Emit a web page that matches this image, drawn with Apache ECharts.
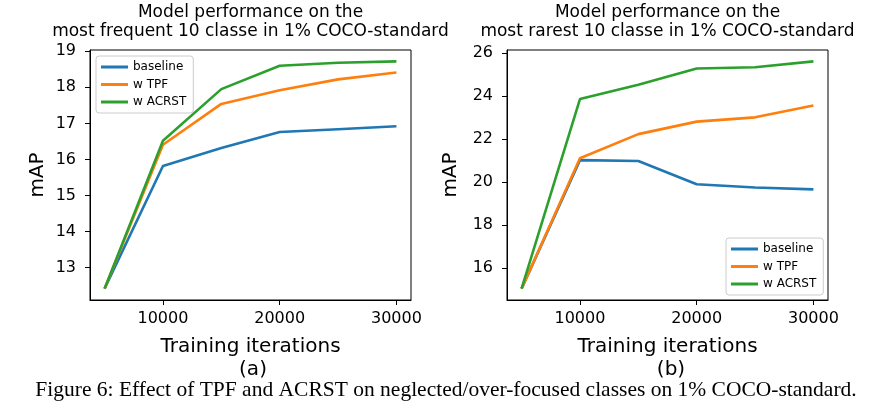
<!DOCTYPE html>
<html><head><meta charset="utf-8">
<script src="https://cdn.jsdelivr.net/npm/echarts@6/dist/echarts.min.js"></script>
<style>html,body{margin:0;padding:0;background:#fff}#c{width:885px;height:414px}</style>
</head><body><div id="c"></div>
<script>
const iterations = [5000, 10000, 15000, 20000, 25000, 30000];
const seriesNames = ['baseline', 'w TPF', 'w ACRST'];
// (a) most frequent 10 classes
const freqBaseline = [12.42, 15.82, 16.32, 16.76, 16.84, 16.92];
const freqTPF      = [12.42, 16.41, 17.54, 17.92, 18.22, 18.41];
const freqACRST    = [12.42, 16.52, 17.95, 18.60, 18.68, 18.72];
// (b) most rarest 10 classes
const rareBaseline = [15.04, 21.01, 20.97, 19.89, 19.74, 19.65];
const rareTPF      = [15.04, 21.10, 22.22, 22.80, 23.00, 23.55];
const rareACRST    = [15.04, 23.85, 24.51, 25.27, 25.33, 25.60];
const xTicks = [10000, 20000, 30000];
const yTicksA = [13, 14, 15, 16, 17, 18, 19];
const yTicksB = [16, 18, 20, 22, 24, 26];

const colors = ['#1f77b4', '#ff7f0e', '#2ca02c'];
const F = 'DejaVu Sans';
const pair = arr => iterations.map((x, i) => [x, arr[i]]);

function xAxis(gi) {
  return {
    type: 'value', gridIndex: gi, min: 3750, max: 31250,
    name: 'Training iterations', nameLocation: 'middle', nameGap: 37,
    nameTextStyle: {fontFamily: F, fontSize: 20, color: '#000'},
    axisLine: {show: true, lineStyle: {color: '#000', width: 1}},
    axisTick: {show: true, length: 5, inside: false, customValues: xTicks, lineStyle: {color: '#000'}},
    axisLabel: {customValues: xTicks, margin: 11, fontFamily: F, fontSize: 16, color: '#000', formatter: v => String(v)},
    splitLine: {show: false}
  };
}
function yAxis(gi, min, max, ticks, gap) {
  return {
    type: 'value', gridIndex: gi, min: min, max: max,
    name: 'mAP', nameLocation: 'middle', nameGap: gap,
    nameTextStyle: {fontFamily: F, fontSize: 20, color: '#000'},
    axisLine: {show: true, lineStyle: {color: '#000', width: 1}},
    axisTick: {show: true, length: 5, customValues: ticks, lineStyle: {color: '#000'}},
    axisLabel: {customValues: ticks, margin: 14, fontFamily: F, fontSize: 16, color: '#000', formatter: v => String(v)},
    splitLine: {show: false}
  };
}
function line(name, gi, arr, ci) {
  return {
    name: name, type: 'line', xAxisIndex: gi, yAxisIndex: gi, data: pair(arr),
    showSymbol: false, symbol: 'none', lineStyle: {color: colors[ci], width: 2.6},
    itemStyle: {color: colors[ci]}, animation: false
  };
}
function legend(left, top) {
  return {
    orient: 'vertical', left: left, top: top, data: seriesNames,
    icon: 'rect', itemWidth: 27, itemHeight: 3, itemGap: 5.5,
    padding: [5, 7, 5, 5], borderColor: '#cccccc', borderWidth: 1, borderRadius: 3,
    backgroundColor: '#fff',
    textStyle: {fontFamily: F, fontSize: 12, color: '#000'}, selectedMode: false
  };
}

const chart = echarts.init(document.getElementById('c'), null, {renderer: 'canvas'});
chart.setOption({
  animation: false,
  backgroundColor: '#fff',
  grid: [
    {left: 90, top: 50, width: 321, height: 250, show: true, borderColor: '#000', borderWidth: 1, containLabel: false},
    {left: 507, top: 50, width: 321, height: 250, show: true, borderColor: '#000', borderWidth: 1, containLabel: false}
  ],
  xAxis: [xAxis(0), xAxis(1)],
  yAxis: [yAxis(0, 12.105, 19.035, yTicksA, 42), yAxis(1, 14.51, 26.13, yTicksB, 46)],
  legend: [legend(96, 56), legend(726, 238)],
  series: [
    line('baseline', 0, freqBaseline, 0), line('w TPF', 0, freqTPF, 1), line('w ACRST', 0, freqACRST, 2),
    line('baseline', 1, rareBaseline, 0), line('w TPF', 1, rareTPF, 1), line('w ACRST', 1, rareACRST, 2)
  ],
  graphic: [
    {type: 'text', x: 250.5, y: 13, style: {text: 'Model performance on the', fontFamily: F, fontSize: 17, fill: '#000', align: 'center', verticalAlign: 'middle'}},
    {type: 'text', x: 250.5, y: 32, style: {text: 'most frequent 10 classe in 1% COCO-standard', fontFamily: F, fontSize: 17, fill: '#000', align: 'center', verticalAlign: 'middle'}},
    {type: 'text', x: 667.5, y: 13, style: {text: 'Model performance on the', fontFamily: F, fontSize: 17, fill: '#000', align: 'center', verticalAlign: 'middle'}},
    {type: 'text', x: 667.5, y: 32, style: {text: 'most rarest 10 classe in 1% COCO-standard', fontFamily: F, fontSize: 17, fill: '#000', align: 'center', verticalAlign: 'middle'}},
    {type: 'text', x: 253, y: 370, style: {text: '(a)', fontFamily: F, fontSize: 20, fill: '#000', align: 'center', verticalAlign: 'middle'}},
    {type: 'text', x: 671, y: 370, style: {text: '(b)', fontFamily: F, fontSize: 20, fill: '#000', align: 'center', verticalAlign: 'middle'}},
    {type: 'text', x: 446, y: 390, style: {text: 'Figure 6: Effect of TPF and ACRST on neglected/over-focused classes on 1% COCO-standard.', fontFamily: 'Liberation Serif', fontSize: 21.5, fill: '#000', align: 'center', verticalAlign: 'middle'}}
  ]
});
</script></body></html>
